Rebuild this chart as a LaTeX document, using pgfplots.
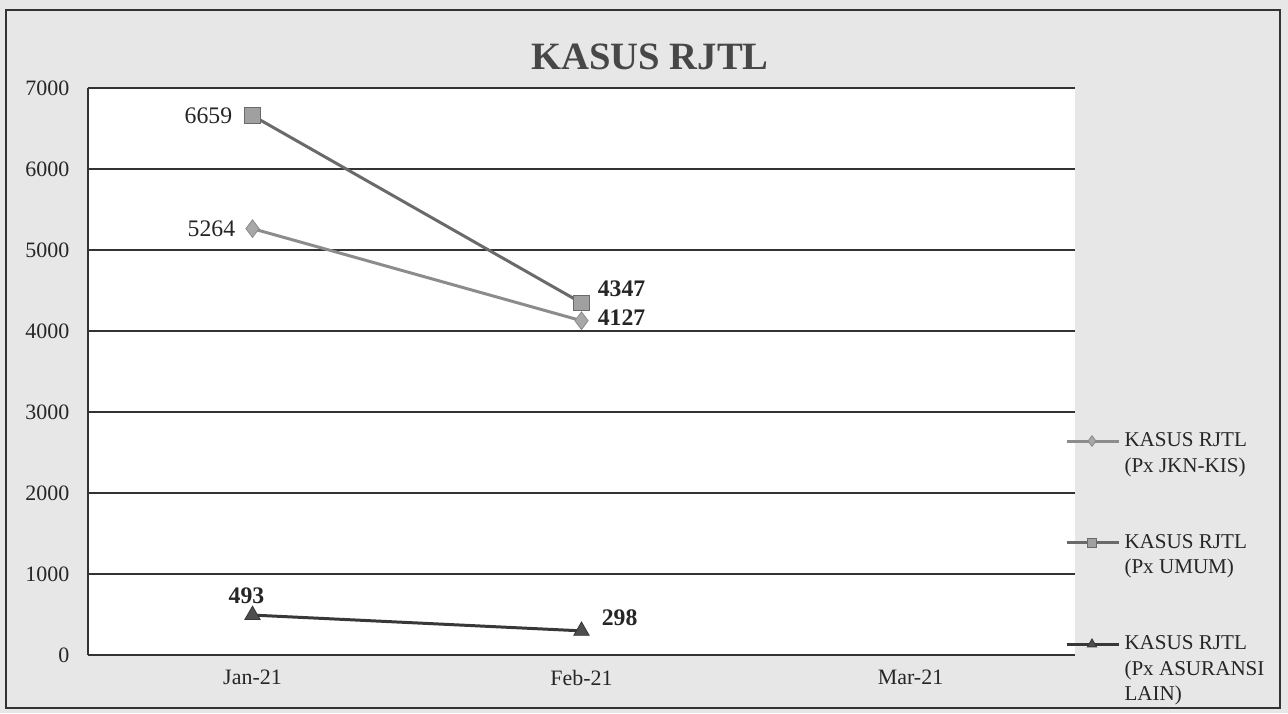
\documentclass[border=0pt]{standalone}
\usepackage{pgfplots}
\pgfplotsset{compat=1.18}
\usepackage{fontspec}
\setmainfont{Liberation Serif}

\definecolor{bgc}{HTML}{E7E7E7}
\definecolor{lineA}{HTML}{8C8C8C}
\definecolor{markA}{HTML}{A8A8A8}
\definecolor{lineB}{HTML}{6A6A6A}
\definecolor{markB}{HTML}{A0A0A0}
\definecolor{lineC}{HTML}{383838}
\definecolor{markC}{HTML}{4E4E4E}

\pgfplotsset{
  serA/.style={color=lineA, line width=1.7pt, mark=diamond*,
    mark options={fill=markA, draw=lineA, line width=0.5pt}},
  serB/.style={color=lineB, line width=1.7pt, mark=square*,
    mark options={fill=markB, draw=lineB, line width=0.5pt}},
  serC/.style={color=lineC, line width=1.7pt, mark=triangle*,
    mark options={fill=markC, draw=lineC, line width=0.5pt}},
  lbl/.style n args={4}{draw=none, mark=none, forget plot, nodes near coords,
    every node near coord/.append style={anchor=#1, xshift=#2cm, yshift=#3cm, inner sep=0pt,
      font=#4\fontsize{13.5}{15}\selectfont, text=black!85}},
}

\begin{document}
\begin{tikzpicture}[x=1cm,y=1cm]
\fill[bgc] (0,0) rectangle (25.76,14.26);
\draw[black!80, line width=1pt] (0.12,0.1) rectangle (25.6,14.06);
\begin{axis}[
  at={(1.76cm,1.16cm)}, anchor=south west,
  scale only axis, width=19.74cm, height=11.34cm,
  xmin=-0.5, xmax=2.5, ymin=0, ymax=7000,
  xtick={0,1,2}, xticklabels={Jan-21,Feb-21,Mar-21},
  ytick={0,1000,...,7000},
  axis x line=bottom, axis y line=left,
  axis line style={-, black!80, line width=0.8pt},
  ymajorgrids, grid style={black!80, line width=0.8pt},
  major tick length=0pt,
  tick label style={font=\fontsize{12.5}{14}\selectfont, text=black!85},
  xticklabel style={yshift=-0.18cm},
  yticklabel style={xshift=-0.25cm},
  /pgf/number format/assume math mode=true,
  /pgf/number format/1000 sep={},
  axis background/.style={fill=white},
  clip=false,
  legend image code/.code={\draw[mark repeat=2,mark phase=2,#1] plot coordinates {(0cm,0cm) (0.5cm,0cm) (1.05cm,0cm)};},
  legend cell align=left,
  legend style={at={(0.99,0.405)}, anchor=north west, draw=none, fill=none,
    font=\fontsize{12}{14.5}\selectfont, text=black!85,
    nodes={align=left}, row sep=1.05cm, inner xsep=0pt},
]
\addplot[serA, mark size=5pt, legend image post style={mark size=3pt, yshift=0.255cm}] coordinates {(0,5264) (1,4127)};
\addlegendentry{KASUS RJTL\\(Px JKN-KIS)}
\addplot[serB, mark size=4.5pt, legend image post style={mark size=2.5pt, yshift=0.255cm}] coordinates {(0,6659) (1,4347)};
\addlegendentry{KASUS RJTL\\(Px UMUM)}
\addplot[serC, mark size=5pt, legend image post style={mark size=3pt, yshift=0.51cm}] coordinates {(0,493) (1,298)};
\addlegendentry{KASUS RJTL\\(Px ASURANSI\\LAIN)}
% data labels
\addplot[lbl={east}{-0.34}{0}{\mdseries}] coordinates {(0,5264)};
\addplot[lbl={west}{0.32}{0.06}{\bfseries}] coordinates {(1,4127)};
\addplot[lbl={east}{-0.40}{0}{\mdseries}] coordinates {(0,6659)};
\addplot[lbl={west}{0.32}{0.28}{\bfseries}] coordinates {(1,4347)};
\addplot[lbl={south}{-0.12}{0.22}{\bfseries}] coordinates {(0,493)};
\addplot[lbl={west}{0.40}{0.26}{\bfseries}] coordinates {(1,298)};
\end{axis}
\node[font=\bfseries\fontsize{22}{26}\selectfont, text=black!72] at (13.0,13.12) {KASUS RJTL};
\end{tikzpicture}
\end{document}
